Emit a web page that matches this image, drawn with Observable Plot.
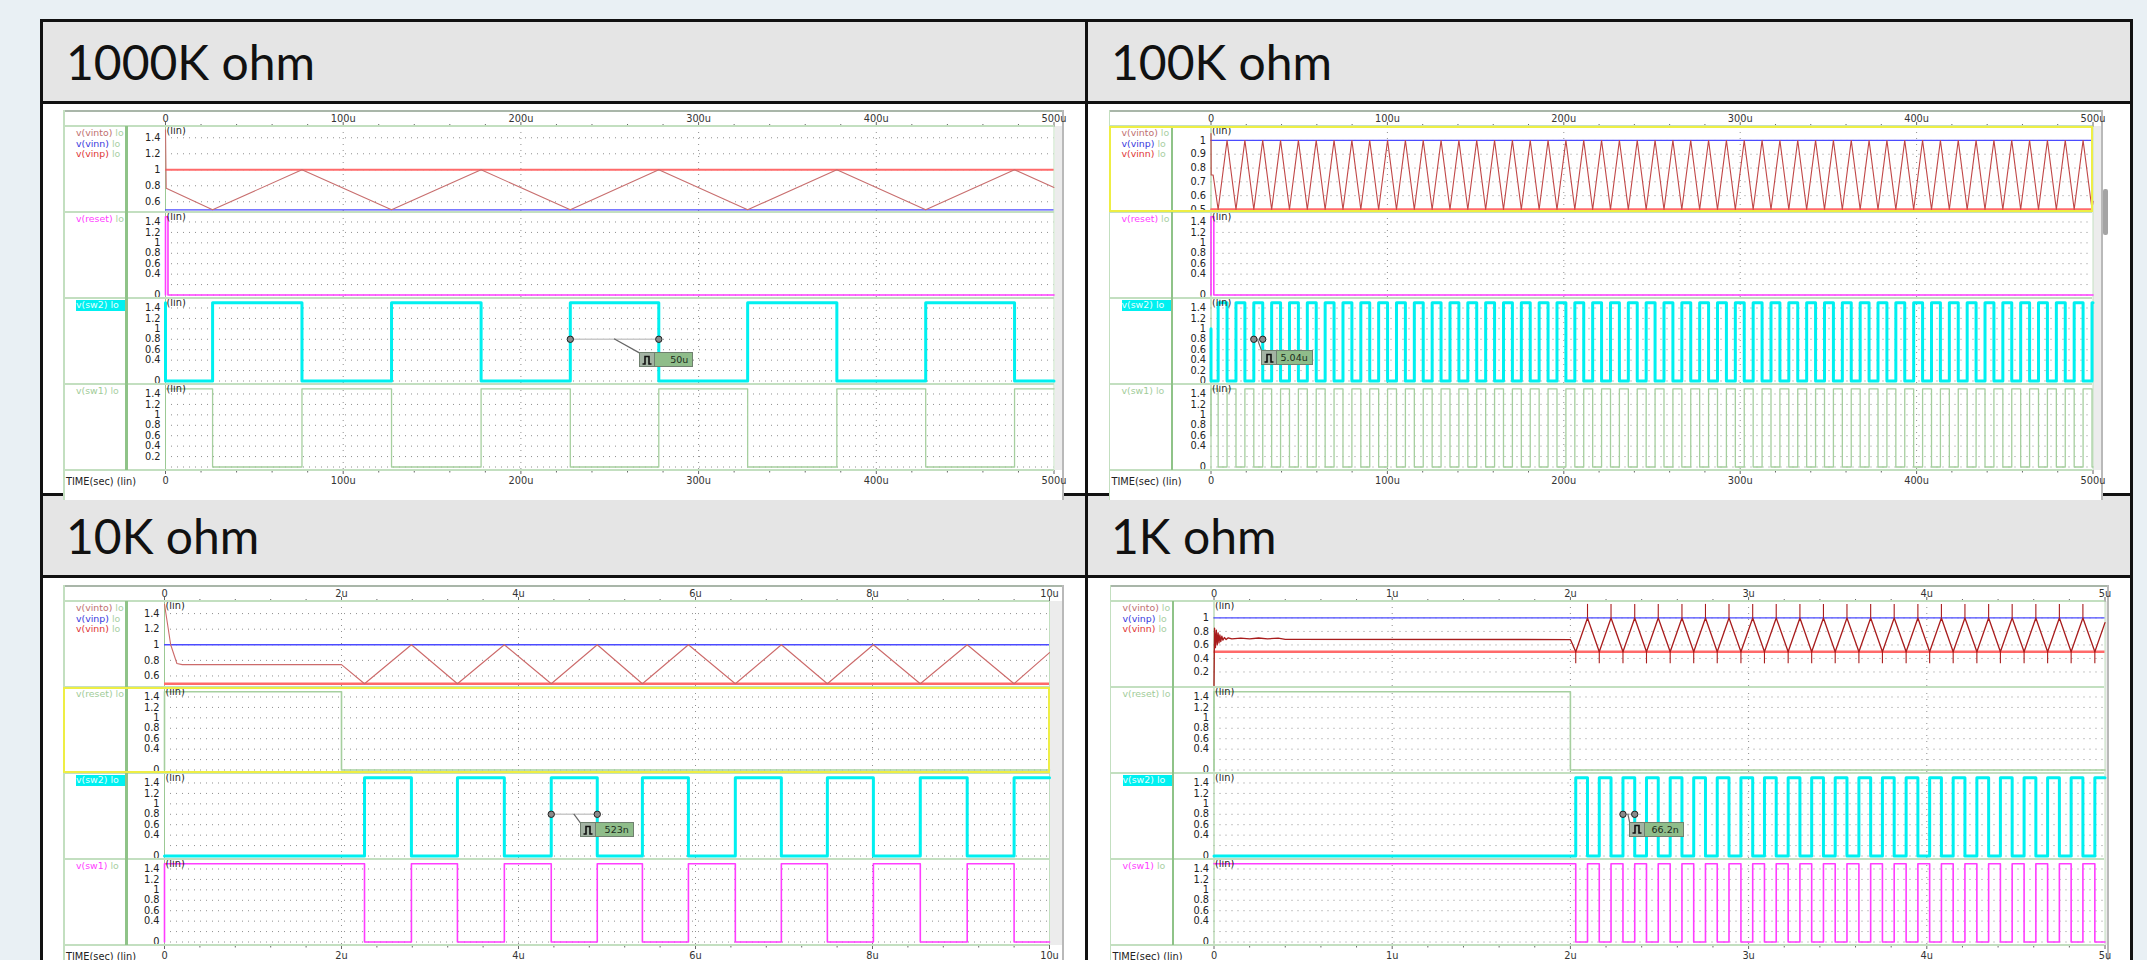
<!DOCTYPE html>
<html><head><meta charset="utf-8">
<script src="https://cdn.jsdelivr.net/npm/d3@7"></script>
<script src="https://cdn.jsdelivr.net/npm/@observablehq/plot@0.6"></script>
<style>
html,body{margin:0;padding:0;}
body{width:2147px;height:960px;overflow:hidden;position:relative;background:#e9f0f4;font-family:"DejaVu Sans",sans-serif;}
.a{position:absolute;box-sizing:border-box;}
.hdr{font-family:Lato,"Open Sans",sans-serif;font-size:48px;color:#111;display:flex;align-items:center;padding-left:23px;background:#e5e5e5;}
.lbl{font-size:9.4px;line-height:10.7px;white-space:nowrap;}
.lo{color:#a9cfa3;}
.tl{font-size:9.8px;color:#222;white-space:nowrap;}
.cbox{display:flex;border:1px solid #6f806f;font-size:9.5px;}
.cbox .ic{width:14px;background:#a3b3a3;border-right:1px solid #6f806f;display:flex;align-items:center;justify-content:center;}
.cbox .tx{flex:1;background:#8fbd8a;color:#1b2b1b;text-align:right;padding-right:4px;line-height:13px;}
</style></head><body>
<script>
// ================= DATA =================
const panelTitles = ["1000K ohm", "100K ohm", "10K ohm", "1K ohm"];
const timeEnds = [500, 500, 10, 5];           // time axis ends (u = µs)

// time axis ticks
const majorTicksA = [0, 100, 200, 300, 400, 500];
const majorLabelsA = ["0", "100u", "200u", "300u", "400u", "500u"];
const minorTicksA = [20,40,60,80,120,140,160,180,220,240,260,280,320,340,360,380,420,440,460,480];
const majorTicksC = [0, 2, 4, 6, 8, 10];
const majorLabelsC = ["0", "2u", "4u", "6u", "8u", "10u"];
const minorTicksC = [0.4,0.8,1.2,1.6,2.4,2.8,3.2,3.6,4.4,4.8,5.2,5.6,6.4,6.8,7.2,7.6,8.4,8.8,9.2,9.6];
const majorTicksD = [0, 1, 2, 3, 4, 5];
const majorLabelsD = ["0", "1u", "2u", "3u", "4u", "5u"];
const minorTicksD = [0.2,0.4,0.6,0.8,1.2,1.4,1.6,1.8,2.2,2.4,2.6,2.8,3.2,3.4,3.6,3.8,4.2,4.4,4.6,4.8];

// voltage axis ticks
const yTicksA1 = [0.6, 0.8, 1, 1.2, 1.4];
const yTicksB1 = [0.5, 0.6, 0.7, 0.8, 0.9, 1];
const yTicksC1 = [0.6, 0.8, 1, 1.2, 1.4];
const yTicksD1 = [0.2, 0.4, 0.6, 0.8, 1];
const yTicksLogic = [0, 0.4, 0.6, 0.8, 1, 1.2, 1.4];
const yTicksLogicNoZero = [0.2, 0.4, 0.6, 0.8, 1, 1.2, 1.4];
const yTicksLogicAll = [0, 0.2, 0.4, 0.6, 0.8, 1, 1.2, 1.4];

// levels
const logicLow = 0, logicHigh = 1.5;
const rampLow = 0.5, rampHigh = 1.0;   // v(vinn)/v(vinp) comparator thresholds
const overshootHigh = 1.2, undershootLow = 0.32;   // 1K ohm spikes

// signal labels
const topLabelsA = ["v(vinto)", "v(vinn)", "v(vinp)"];
const topLabelsB = ["v(vinto)", "v(vinp)", "v(vinn)"];

// switching instants (alternating: ramp valley / ramp peak)
const edgesA = [26.5, 76.8, 127.2, 177.6, 227.8, 277.6, 327.6, 377.8, 427.8, 477.8];
const edgesB = [4.05,9.10,14.16,19.21,24.27,29.32,34.38,39.43,44.49,49.54,54.60,59.65,64.71,69.76,74.82,79.87,84.93,89.98,95.04,100.09,105.15,110.20,115.26,120.31,125.37,130.42,135.48,140.53,145.59,150.64,155.70,160.75,165.81,170.86,175.92,180.97,186.03,191.08,196.14,201.19,206.25,211.30,216.36,221.41,226.47,231.52,236.58,241.63,246.69,251.74,256.80,261.85,266.91,271.96,277.02,282.07,287.13,292.18,297.24,302.29,307.35,312.40,317.46,322.51,327.57,332.62,337.68,342.73,347.79,352.84,357.90,362.95,368.01,373.06,378.12,383.17,388.23,393.28,398.34,403.39,408.45,413.50,418.56,423.61,428.67,433.72,438.78,443.83,448.89,453.94,459.00,464.05,469.11,474.16,479.22,484.27,489.33,494.38,499.44];
const edgesC = [2.26, 2.79, 3.31, 3.84, 4.37, 4.89, 5.40, 5.92, 6.45, 6.97, 7.49, 8.01, 8.54, 9.07, 9.60];
const edgesD = [2.030,2.096,2.162,2.228,2.295,2.361,2.427,2.493,2.560,2.626,2.692,2.758,2.824,2.890,2.957,3.023,3.089,3.155,3.222,3.288,3.354,3.420,3.486,3.552,3.619,3.685,3.751,3.817,3.884,3.950,4.016,4.082,4.148,4.214,4.281,4.347,4.413,4.479,4.546,4.612,4.678,4.744,4.810,4.876,4.943];

// v(vinto) start / end segments [time, volts]
const vintoStartA = [[0, 1.5], [0.4, 0.77]];
const vintoEndA = [[500, 0.78]];
const vintoStartB = [[0, 1.05], [0.1, 0.75], [1.2, 0.75]];
const vintoEndB = [[500, 0.56]];
const vintoStartC = [[0, 1.52], [0.07, 1.0], [0.14, 0.76], [0.2, 0.745], [2.0, 0.745]];
const vintoEndC = [[10, 0.9]];
const vintoStartD = [[0,0],[0.003,0.85],[0.008,0.56],[0.013,0.82],[0.018,0.6],[0.023,0.78],[0.028,0.63],[0.033,0.75],[0.038,0.65],[0.044,0.73],[0.05,0.67],[0.058,0.71],[0.068,0.68],[0.08,0.705],[0.1,0.69],[0.15,0.7],[0.2,0.69],[0.25,0.703],[0.3,0.69],[0.36,0.7],[0.4,0.683],[2.0,0.68]];
const vintoEndD = [[5, 0.93]];

// v(reset) [time, volts]
const resetA = [[0, 0], [0, 1.5], [1.4, 1.5], [1.4, 0], [500, 0]];
const resetB = [[0, 0], [0, 1.5], [1.6, 1.5], [1.6, 0], [500, 0]];
const resetC = [[0, 0], [0, 1.5], [2.0, 1.5], [2.0, 0], [10, 0]];
const resetD = [[0, 0], [0, 1.5], [2.0, 1.5], [2.0, 0], [5, 0]];

// switch waveform starts
const sw2StartA = [[0, 1.5], [0, 0]];
const sw2StartB = [[0, 1.0], [0, 0]];
const sw2StartC = [[0, 0]];
const sw2StartD = [[0, 0]];
const sw1StartA = [[0, 1.5]];
const sw1StartB = [[0, 0.6], [0, 1.5]];
const sw1StartC = [[0, 0], [0, 1.5]];
const sw1StartD = [[0, 1.5]];

// pulse-width cursors on v(sw2)
const cursorA = [227.8, 277.6], cursorTextA = "50u";
const cursorB = [24.27, 29.32], cursorTextB = "5.04u";
const cursorC = [4.37, 4.89], cursorTextC = "523n";
const cursorD = [2.295, 2.361], cursorTextD = "66.2n";
const cursorLevel = 0.8;

// ================= LAYOUT / STYLE =================
const SUB_H = 86, AXIS_H = 16;
const COL = {cyan:"#00f0f0", magenta:"#ff3dff", green:"#a6cf9f", blue:"#4b4bff", red:"#ff6a6a",
  lblVinto:"#c07070", lblBlue:"#3838dd", lblRed:"#e03434", grid:"#8f8f8f", frame:"#c3dfc0", colLine:"#8fc388"};
const logicDomain = [-0.067, 1.582];
const layouts = [
  {left:63, top:110, right:1063, x0:165, x1:1053.5, hiColor:COL.red, loColor:COL.blue, vintoColor:"#c86e6e", resetColor:COL.magenta, sw1Color:COL.green, sel:null, dom0:[0.466,1.541], box:{dx:-19,dy:13.6,w:54}},
  {left:1108.5, top:110, right:2102, x0:1210, x1:2092, hiColor:COL.blue, loColor:COL.red, vintoColor:"#c04646", resetColor:COL.magenta, sw1Color:COL.green, sel:0, thumb:true, dom0:[0.478,1.101], box:{dx:-1,dy:11.3,w:52}},
  {left:63, top:585, right:1063, x0:164, x1:1049, hiColor:COL.blue, loColor:COL.red, vintoColor:"#cc6a6a", resetColor:COL.green, sw1Color:COL.magenta, sel:1, dom0:[0.452,1.555], box:{dx:-17,dy:8.6,w:54}},
  {left:1109.5, top:585, right:2108, x0:1213, x1:2104, hiColor:COL.blue, loColor:COL.red, vintoColor:"#a81c1c", resetColor:COL.green, sw1Color:COL.magenta, sel:null, dom0:[-0.03,1.243], box:{dx:-5,dy:8,w:55}, spikes:true}
];

const panels = [
  {T:timeEnds[0], major:majorTicksA, labels:majorLabelsA, minor:minorTicksA, edges:edgesA, vs:vintoStartA, ve:vintoEndA, reset:resetA, s2:sw2StartA, s1:sw1StartA, cur:cursorA, curText:cursorTextA, top:topLabelsA, yt:[yTicksA1, yTicksLogic, yTicksLogic, yTicksLogicNoZero]},
  {T:timeEnds[1], major:majorTicksA, labels:majorLabelsA, minor:minorTicksA, edges:edgesB, vs:vintoStartB, ve:vintoEndB, reset:resetB, s2:sw2StartB, s1:sw1StartB, cur:cursorB, curText:cursorTextB, top:topLabelsB, yt:[yTicksB1, yTicksLogic, yTicksLogicAll, yTicksLogic]},
  {T:timeEnds[2], major:majorTicksC, labels:majorLabelsC, minor:minorTicksC, edges:edgesC, vs:vintoStartC, ve:vintoEndC, reset:resetC, s2:sw2StartC, s1:sw1StartC, cur:cursorC, curText:cursorTextC, top:topLabelsB, yt:[yTicksC1, yTicksLogic, yTicksLogic, yTicksLogic]},
  {T:timeEnds[3], major:majorTicksD, labels:majorLabelsD, minor:minorTicksD, edges:edgesD, vs:vintoStartD, ve:vintoEndD, reset:resetD, s2:sw2StartD, s1:sw1StartD, cur:cursorD, curText:cursorTextD, top:topLabelsB, yt:[yTicksD1, yTicksLogic, yTicksLogic, yTicksLogic]}
];

// ================= HELPERS =================
const body = document.body;
function el(tag, cls, css, parent = body) {
  const e = document.createElement(tag);
  if (cls) e.className = cls;
  Object.assign(e.style, css);
  parent.appendChild(e);
  return e;
}
function rect(x, y, w, h, bg, extra = {}) {
  return el("div", "a", Object.assign({left:x+"px", top:y+"px", width:w+"px", height:h+"px", background:bg}, extra));
}
function place(svg, x, y) {
  svg.style.position = "absolute"; svg.style.left = x + "px"; svg.style.top = y + "px";
  body.appendChild(svg); return svg;
}
const pts = arr => arr.map(([t, v]) => ({t, v}));
function rampRows(P) {
  return [...pts(P.vs), ...P.edges.map((t, i) => ({t, v: i % 2 === 0 ? rampLow : rampHigh})), ...pts(P.ve)];
}
function stepRows(start, edges, T, firstLevel, otherLevel) {
  const rows = [...pts(start), ...edges.map((t, i) => ({t, v: i % 2 === 0 ? firstLevel : otherLevel}))];
  rows.push({t: T, v: rows[rows.length - 1].v});
  return rows;
}
const baseStyle = {fontFamily:"DejaVu Sans", fontSize:"9.8px", color:"#222", background:"none", overflow:"visible"};

// ================= TABLE =================
rect(40, 19, 2093, 960, "#fff", {border:"3px solid #111"});
rect(43, 22, 2087, 79, "#e5e5e5");
rect(43, 496, 2087, 79, "#e5e5e5");
rect(40, 101, 2093, 3, "#111");
rect(40, 493, 2093, 3, "#111");
rect(40, 575, 2093, 3, "#111");
rect(1085, 19, 3, 960, "#111");
[[43,22],[1088,22],[43,496],[1088,496]].forEach(([x,y],i) => {
  const h = el("div", "a hdr", {left:x+"px", top:y+"px", width:"1040px", height:"79px"});
  h.textContent = panelTitles[i];
});

// ================= WAVEFORM WINDOWS =================
panels.forEach((P, pi) => {
  const L = layouts[pi];
  const W = L.right - L.left;
  const winH = 390;
  rect(L.left, L.top, W, winH, "#fff");
  rect(L.x1 + 1, L.top + AXIS_H, L.right - L.x1 - 1, SUB_H * 4, "#ececec");
  rect(L.left, L.top, W, 1.5, "#a9b6a9");
  rect(L.left, L.top, 1.5, winH, COL.frame);
  rect(L.right - 1, L.top, 1.5, winH, "#b9b9b9");

  const gridX = P.major.filter(d => d > 0 && d < P.T);

  // top time axis
  place(Plot.plot({
    width: W, height: AXIS_H, marginLeft: L.x0 - L.left, marginRight: L.right - L.x1, marginTop: 11, marginBottom: 0,
    x: {domain: [0, P.T], axis: null},
    style: baseStyle,
    marks: [
      Plot.axisX(P.major, {anchor: "top", tickSize: 0, tickPadding: 1, tickFormat: d => P.labels[P.major.indexOf(d)], fill: "#333"}),
      Plot.tickX(P.minor, {stroke: "#666", insetTop: 2}),
      Plot.tickX(P.major, {stroke: "#666"})
    ]
  }), L.left, L.top + 1);

  // bottom time axis
  place(Plot.plot({
    width: W, height: 22, marginLeft: L.x0 - L.left, marginRight: L.right - L.x1, marginTop: 0, marginBottom: 18,
    x: {domain: [0, P.T], axis: null},
    style: baseStyle,
    marks: [
      Plot.axisX(P.major, {anchor: "bottom", tickSize: 0, tickPadding: 3, tickFormat: d => P.labels[P.major.indexOf(d)], fill: "#333"}),
      Plot.tickX(P.minor, {stroke: "#666", insetBottom: 1.5}),
      Plot.tickX(P.major, {stroke: "#666"})
    ]
  }), L.left, L.top + AXIS_H + SUB_H * 4);
  const tl = el("div", "a tl", {left:(L.left + 3)+"px", top:(L.top + AXIS_H + SUB_H*4 + 6)+"px"});
  tl.textContent = "TIME(sec) (lin)";

  // sub-plot specs
  const logicGrid = yTicksLogicAll;
  const specs = [
    {domain: L.dom0, ticks: P.yt[0], grid: P.yt[0], marks: [
      Plot.ruleY([rampHigh], {stroke: L.hiColor, strokeWidth: L.hiColor === COL.red ? 2 : 1.3}),
      Plot.ruleY([rampLow], {stroke: L.loColor, strokeWidth: L.loColor === COL.red ? 2.4 : 1.3}),
      Plot.line(rampRows(P), {x: "t", y: "v", stroke: L.vintoColor, strokeWidth: L.spikes ? 1.3 : 1.1}),
      ...(L.spikes ? [
        Plot.ruleX(P.edges.filter((_, i) => i % 2 === 1), {x: d => d, y1: rampHigh, y2: overshootHigh, stroke: L.vintoColor, strokeWidth: 1.1}),
        Plot.ruleX(P.edges.filter((_, i) => i % 2 === 0), {x: d => d, y1: rampLow, y2: undershootLow, stroke: L.vintoColor, strokeWidth: 1.1})
      ] : [])
    ]},
    {domain: logicDomain, ticks: P.yt[1], grid: logicGrid, marks: [
      Plot.line(pts(P.reset), {x: "t", y: "v", stroke: L.resetColor, strokeWidth: 1.6})
    ]},
    {domain: logicDomain, ticks: P.yt[2], grid: logicGrid, marks: [
      Plot.line(stepRows(P.s2, P.edges, P.T, logicHigh, logicLow), {x: "t", y: "v", curve: "step-after", stroke: COL.cyan, strokeWidth: 3}),
      Plot.link([P.cur], {x1: d => d[0], x2: d => d[1], y1: cursorLevel, y2: cursorLevel, stroke: "#c9c9c9", strokeWidth: 1.5}),
      Plot.dot(P.cur, {x: d => d, y: cursorLevel, r: 3.2, fill: "#8a8a8a", stroke: "#222", strokeWidth: 1})
    ]},
    {domain: logicDomain, ticks: P.yt[3], grid: logicGrid, marks: [
      Plot.line(stepRows(P.s1, P.edges, P.T, logicLow, logicHigh), {x: "t", y: "v", curve: "step-after", stroke: L.sw1Color, strokeWidth: L.sw1Color === COL.magenta ? 1.6 : 1.3})
    ]}
  ];

  const svgs = specs.map((spec, k) => {
    const svg = Plot.plot({
      width: L.x1 - L.left, height: SUB_H, marginLeft: L.x0 - L.left, marginRight: 0, marginTop: 0, marginBottom: 0,
      x: {domain: [0, P.T], axis: null},
      y: {domain: spec.domain, ticks: spec.ticks, tickSize: 0, tickPadding: 5, tickFormat: d => String(d), label: null},
      style: baseStyle,
      marks: [
        Plot.gridY(spec.grid, {stroke: COL.grid, strokeOpacity: 1, strokeDasharray: "1,5"}),
        Plot.gridX(gridX, {stroke: COL.grid, strokeOpacity: 1, strokeDasharray: "1,5"}),
        Plot.ruleX([0], {stroke: "#9cc995"}),
        Plot.ruleX([P.T], {stroke: COL.frame}),
        ...spec.marks,
        Plot.text(["(lin)"], {text: d => d, frameAnchor: "top-left", dx: 1, dy: 1, lineAnchor: "top", fill: "#222"})
      ]
    });
    return place(svg, L.left, L.top + AXIS_H + SUB_H * k);
  });

  // separators & label column line
  for (let k = 0; k <= 4; k++) rect(L.left, L.top + AXIS_H + SUB_H * k - 1, L.x1 - L.left, 2, COL.frame);
  rect(L.left + 62, L.top + AXIS_H, 2.5, SUB_H * 4, COL.colLine);

  // signal labels
  const lab = [
    [[P.top[0], COL.lblVinto], [P.top[1], COL.lblBlue], [P.top[2], COL.lblRed]],
    [["v(reset)", L.resetColor === COL.green ? "#9fcc98" : L.resetColor]],
    [["v(sw2)", "#e6ffff", true]],
    [["v(sw1)", L.sw1Color === COL.green ? "#9fcc98" : L.sw1Color]]
  ];
  lab.forEach((items, k) => {
    const wrap = el("div", "a lbl", {left:(L.left + 13)+"px", top:(L.top + AXIS_H + SUB_H*k + 2)+"px", width:"49px", height:"36px"});
    items.forEach(([name, color, sel]) => {
      const line = el("div", "", {height:"10.7px", color, background: sel ? COL.cyan : "none"}, wrap);
      line.innerHTML = name + ' <span class="lo"' + (sel ? ' style="color:#e6ffff"' : '') + '>lo</span>';
    });
  });

  // selection frame
  if (L.sel !== null) {
    rect(L.left, L.top + AXIS_H + SUB_H * L.sel, L.x1 - L.left + 1, SUB_H, "none", {border: "2px solid #eeee44"});
  }
  if (L.thumb) rect(L.right + 0.5, 189, 5, 46, "#a4a4a4", {borderRadius: "2px"});

  // cursor label box
  const s2 = svgs[2];
  const subTop = L.top + AXIS_H + SUB_H * 2;
  const xa = L.left + s2.scale("x").apply(P.cur[0]);
  const xb = L.left + s2.scale("x").apply(P.cur[1]);
  const yc = subTop + s2.scale("y").apply(cursorLevel);
  const mid = (xa + xb) / 2;
  const bx = xb + L.box.dx, by = yc + L.box.dy;
  const NS = "http://www.w3.org/2000/svg";
  const ls = document.createElementNS(NS, "svg");
  ls.setAttribute("width", 2147); ls.setAttribute("height", 960);
  Object.assign(ls.style, {position:"absolute", left:"0px", top:"0px", pointerEvents:"none"});
  const ln = document.createElementNS(NS, "line");
  ln.setAttribute("x1", mid); ln.setAttribute("y1", yc); ln.setAttribute("x2", bx + 1); ln.setAttribute("y2", by + 1);
  ln.setAttribute("stroke", "#666"); ln.setAttribute("stroke-width", "1.2");
  ls.appendChild(ln); body.appendChild(ls);
  const bxEl = el("div", "a cbox", {left: bx+"px", top: by+"px", width: L.box.w+"px", height: "15px"});
  bxEl.innerHTML = '<div class="ic"><svg width="10" height="10"><path d="M0.5,9 H3 V1.5 H7 V9 H9.5" fill="none" stroke="#111" stroke-width="1.6"/></svg></div><div class="tx">' + P.curText + '</div>';
});
</script>
</body></html>
